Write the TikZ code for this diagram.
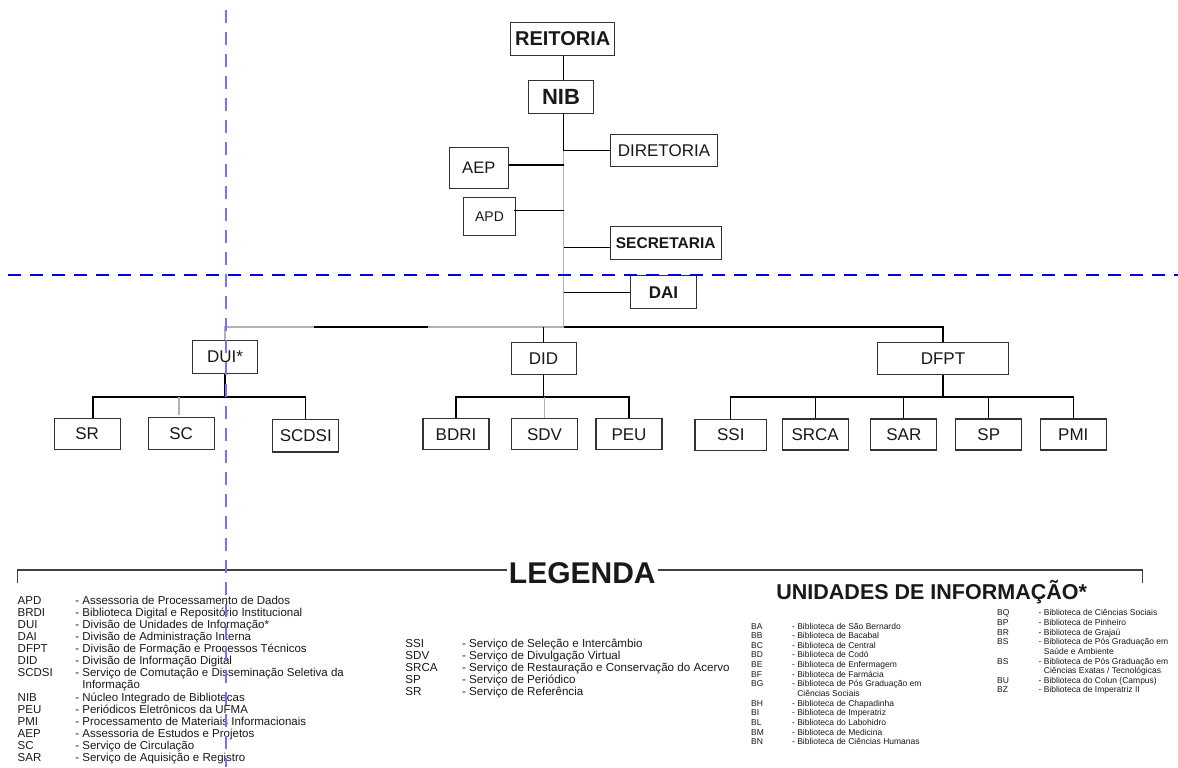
\documentclass[tikz,border=0pt]{standalone}
\usepackage{fontspec}
\setmainfont{Liberation Sans}
\usepackage{tikz}

\begin{document}
\begin{tikzpicture}[
  x=0.5pt, y=-0.5pt,
  unit/.style={draw=black!80, line width=0.6pt, inner sep=0pt, minimum width=33pt, minimum height=15.5pt, text=black!90, font=\fontsize{8.5}{10}\selectfont},
  link/.style={line width=0.55pt},
  pale/.style={line width=0.8pt, black!30},
  heavy/.style={line width=1.2pt},
  frame/.style={line width=0.6pt, black!75},
  guide/.style={line width=0.8pt, dash pattern=on 6.5pt off 4.5pt},
  legtext/.style={anchor=base west, inner sep=0pt, text=black!90}]
\useasboundingbox (0,0) rectangle (1178,767);
\fill[white] (0,0) rectangle (1178,767);
\node[unit, minimum width=52pt, minimum height=16.5pt, font=\fontsize{10}{12}\selectfont\bfseries] (reitoria) at (562.7,39) {REITORIA};
\node[unit, minimum width=32.5pt, minimum height=16.5pt, font=\fontsize{11}{13}\selectfont\bfseries] (nib) at (561,97) {NIB};
\node[unit, minimum width=53.5pt, minimum height=16pt] (diretoria) at (664,150.7) {DIRETORIA};
\node[unit, minimum width=29.5pt, minimum height=20.5pt, font=\fontsize{8.3}{10}\selectfont] (aep) at (478.8,168) {AEP};
\node[unit, minimum width=26pt, minimum height=19pt, font=\fontsize{7}{9}\selectfont] (apd) at (489.5,216.3) {APD};
\node[unit, minimum width=55.5pt, minimum height=16.5pt, font=\fontsize{7.75}{9}\selectfont\bfseries] (secretaria) at (665.7,243) {SECRETARIA};
\node[unit, minimum height=16.5pt, font=\fontsize{8.5}{10}\selectfont\bfseries] (dai) at (663.5,292.3) {DAI};
\node[unit, minimum width=32.5pt, minimum height=16.3pt] (dui) at (225,357) {DUI*};
\node[unit, minimum width=32.5pt, minimum height=16pt] (did) at (543.6,358.3) {DID};
\node[unit, minimum width=65.5pt, minimum height=16pt] (dfpt) at (943,358.3) {DFPT};
\node[unit] (sr) at (87.1,434) {SR};
\node[unit, minimum height=16pt] (sc) at (181.2,433.3) {SC};
\node[unit, minimum height=16.3pt] (scdsi) at (305.8,435.7) {SCDSI};
\node[unit] (bdri) at (456,434.3) {BDRI};
\node[unit] (sdv) at (544.6,434.3) {SDV};
\node[unit] (peu) at (629,434.3) {PEU};
\node[unit, minimum width=35.8pt] (ssi) at (730.8,434.7) {SSI};
\node[unit] (srca) at (815.2,434.5) {SRCA};
\node[unit] (sar) at (903.8,434.5) {SAR};
\node[unit] (sp) at (988.8,434.5) {SP};
\node[unit] (pmi) at (1073.3,434.5) {PMI};
\coordinate (tk) at (563.5,0);
\coordinate (lvl1) at (0,327);
\coordinate (lvl2) at (0,397);
\coordinate (b1) at (314,327);
\coordinate (b2) at (428,327);
\draw[link] (reitoria.south -| tk) -- (nib.north -| tk);
\draw[link] (nib.south -| tk) -- (tk |- diretoria.west) -- (diretoria.west);
\draw[pale] (tk |- diretoria.west) -- (tk |- lvl1);
\draw[link] ([yshift=1.5pt]aep.east) -- ([yshift=1.5pt]aep.east -| tk);
\draw[link] ([xshift=-1pt,yshift=2.8pt]apd.east) -- ([yshift=2.8pt]apd.east -| tk);
\draw[link] ([yshift=-2.15pt]secretaria.west) -- ([yshift=-2.15pt]secretaria.west -| tk);
\draw[link] (dai.west) -- (dai.west -| tk);
\draw[pale] (dui.north) |- (tk |- lvl1);
\draw[link] (b1) -- (b2);
\draw[link] (tk |- lvl1) -| (dfpt.north);
\draw[link] (did.north |- lvl1) -- (did.north);
\draw[link] (dui.south) -- (dui.south |- lvl2);
\draw[heavy] ([xshift=3pt]sr.north) |- (scdsi.north |- lvl2);
\draw[link] (scdsi.north |- lvl2) -- (scdsi.north);
\draw[pale] ([xshift=-1.2pt]sc.north |- lvl2) -- ([xshift=-1.2pt,yshift=1pt]sc.north);
\draw[link] (did.south) -- (did.south |- lvl2);
\draw[link] (bdri.north) |- (peu.north |- lvl2) -- (peu.north);
\draw[pale] (sdv.north) -- (sdv.north |- lvl2);
\draw[link] (dfpt.south) -- (dfpt.south |- lvl2);
\draw[link] (ssi.north) |- (pmi.north |- lvl2) -- (pmi.north);
\draw[link] (srca.north) -- (srca.north |- lvl2);
\draw[link] (sar.north) -- (sar.north |- lvl2);
\draw[link] (sp.north) -- (sp.north |- lvl2);
\node[inner sep=1pt, text=black!90, font=\fontsize{15}{18}\selectfont\bfseries] (legenda) at (582.3,573) {LEGENDA};
\draw[frame] (17.3,583) |- ([yshift=1.5pt]legenda.west);
\draw[frame] ([yshift=1.5pt]legenda.east) -| (1142.7,583);
\node[inner sep=0pt, text=black!90, font=\fontsize{10.75}{13}\selectfont\bfseries] (unidades) at (931.7,591.7) {UNIDADES DE INFORMAÇÃO*};
\node[legtext, font=\fontsize{5.75}{6.02}\selectfont] (legesq) at (17.3,604.6) {\begin{tabular}[t]{@{}p{28.85pt}@{}l@{}}
APD & - Assessoria de Processamento de Dados\\
BRDI & - Biblioteca Digital e Repositório Institucional\\
DUI & - Divisão de Unidades de Informação*\\
DAI & - Divisão de Administração Interna\\
DFPT & - Divisão de Formação e Processos Técnicos\\
DID & - Divisão de Informação Digital\\
SCDSI & - Serviço de Comutação e Disseminação Seletiva da\\
 & \phantom{- }Informação\\
NIB & - Núcleo Integrado de Bibliotecas\\
PEU & - Periódicos Eletrônicos da UFMA\\
PMI & - Processamento de Materiais Informacionais\\
AEP & - Assessoria de Estudos e Projetos\\
SC & - Serviço de Circulação\\
SAR & - Serviço de Aquisição e Registro
\end{tabular}};
\node[legtext, font=\fontsize{5.8}{5.9}\selectfont] (legmeio) at (405,647.9) {\begin{tabular}[t]{@{}p{28.35pt}@{}l@{}}
SSI & - Serviço de Seleção e Intercâmbio\\
SDV & - Serviço de Divulgação Virtual\\
SRCA & - Serviço de Restauração e Conservação do Acervo\\
SP & - Serviço de Periódico\\
SR & - Serviço de Referência
\end{tabular}};
\node[legtext, font=\fontsize{4.25}{4.82}\selectfont] (legbib) at (750.7,629) {\begin{tabular}[t]{@{}p{20.5pt}@{}l@{}}
BA & - Biblioteca de São Bernardo\\
BB & - Biblioteca de Bacabal\\
BC & - Biblioteca de Central\\
BD & - Biblioteca de Codó\\
BE & - Biblioteca de Enfermagem\\
BF & - Biblioteca de Farmácia\\
BG & - Biblioteca de Pós Graduação em\\
 & \phantom{- }Ciências Sociais\\
BH & - Biblioteca de Chapadinha\\
BI & - Biblioteca de Imperatriz\\
BL & - Biblioteca do Labohidro\\
BM & - Biblioteca de Medicina\\
BN & - Biblioteca de Ciências Humanas
\end{tabular}};
\node[legtext, font=\fontsize{4.25}{4.83}\selectfont] (legbib2) at (996.7,615.7) {\begin{tabular}[t]{@{}p{20.8pt}@{}l@{}}
BQ & - Biblioteca de Ciências Sociais\\
BP & - Biblioteca de Pinheiro\\
BR & - Biblioteca de Grajaú\\
BS & - Biblioteca de Pós Graduação em\\
 & \phantom{- }Saúde e Ambiente\\
BS & - Biblioteca de Pós Graduação em\\
 & \phantom{- }Ciências Exatas / Tecnológicas\\
BU & - Biblioteca do Colun (Campus)\\
BZ & - Biblioteca de Imperatriz II
\end{tabular}};
\draw[guide, blue!90!black] (8,275) -- (1178,275);
\draw[guide, blue!55] (226,10) -- (226,767);
\end{tikzpicture}
\end{document}
